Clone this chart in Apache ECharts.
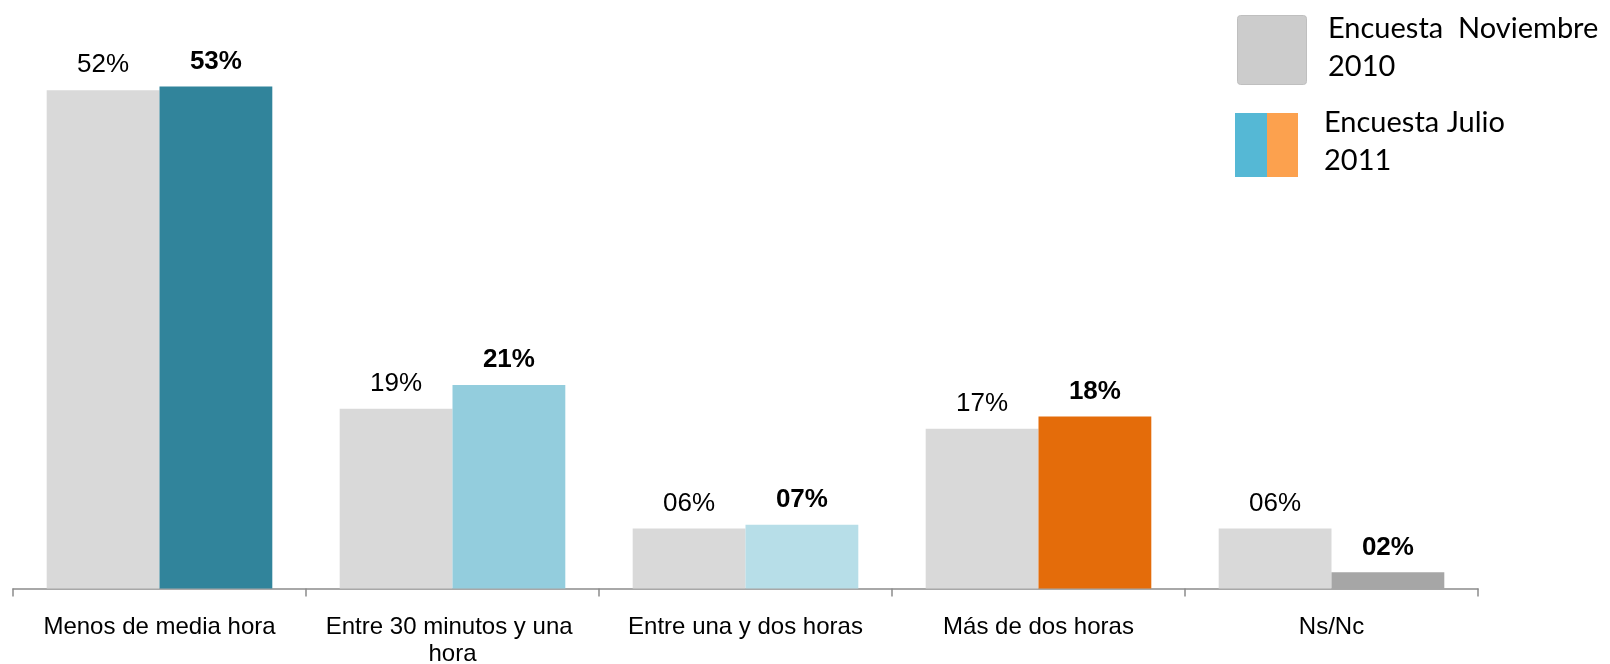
<!DOCTYPE html>
<html>
<head>
<meta charset="utf-8">
<script src="https://cdn.jsdelivr.net/npm/echarts@6/dist/echarts.min.js"></script>
<style>
  html, body { margin: 0; padding: 0; background: #fff; }
  #tiempo { width: 1610px; height: 664px; }
</style>
</head>
<body>
<div id="tiempo"></div>
<script>
var categorias = ['Menos de media hora', 'Entre 30 minutos y una hora', 'Entre una y dos horas', 'Más de dos horas', 'Ns/Nc'];
var nov2010 = [52.4, 18.9, 6.3, 16.8, 6.3];
var jul2011 = [52.8, 21.4, 6.7, 18.1, 1.7];
var coloresJul = ['#31849B', '#93CDDD', '#B7DEE8', '#E46C0A', '#A6A6A6'];

function pct(p) {
    var v = Math.round(p.value);
    return (v < 10 ? '0' + v : v) + '%';
}

function tiempoChart() {
    var tiempoOption = {
        animation: false,
        grid: {
            left: 13,
            right: 132,
            top: 18,
            bottom: 75.5,
            containLabel: false,
            outerBoundsMode: 'none'
        },
        xAxis: {
            type: 'category',
            data: categorias,
            axisLine: { lineStyle: { color: '#8C8C8C', width: 1.5 } },
            axisTick: { show: true, length: 8, lineStyle: { color: '#8C8C8C', width: 1.5 } },
            axisLabel: {
                color: '#000',
                fontFamily: 'Liberation Sans',
                fontSize: 24,
                lineHeight: 27,
                margin: 25,
                width: 270,
                overflow: 'break',
                interval: 0
            }
        },
        yAxis: {
            type: 'value',
            min: 0,
            max: 60,
            show: false,
            splitLine: { show: false }
        },
        series: [
            {
                name: 'Encuesta  Noviembre 2010',
                type: 'bar',
                barGap: 0,
                barCategoryGap: '23%',
                itemStyle: { color: '#D9D9D9' },
                label: {
                    show: true,
                    position: 'top',
                    distance: 12,
                    color: '#000',
                    fontFamily: 'Liberation Sans',
                    fontSize: 26,
                    formatter: pct
                },
                data: nov2010
            },
            {
                name: 'Encuesta Julio 2011',
                type: 'bar',
                itemStyle: {
                    color: function (p) { return coloresJul[p.dataIndex]; }
                },
                label: {
                    show: true,
                    position: 'top',
                    distance: 12,
                    color: '#000',
                    fontFamily: 'Liberation Sans',
                    fontWeight: 'bold',
                    fontSize: 26,
                    formatter: pct
                },
                data: jul2011
            }
        ],
        graphic: [
            // leyenda hecha a mano (el cuadro de 2011 va partido en dos colores)
            { type: 'rect', left: 1237, top: 15, shape: { width: 69, height: 69, r: 3 },
              style: { fill: '#CCCCCC', stroke: '#BFBFBF', lineWidth: 1 } },
            { type: 'text', left: 1328, top: 10,
              style: { text: 'Encuesta  Noviembre\n2010', font: '29px Lato', lineHeight: 38, fill: '#000' } },
            { type: 'rect', left: 1235, top: 113, shape: { width: 32, height: 64 },
              style: { fill: '#55B8D5' } },
            { type: 'rect', left: 1267, top: 113, shape: { width: 31, height: 64 },
              style: { fill: '#FCA14E' } },
            { type: 'text', left: 1324, top: 104,
              style: { text: 'Encuesta Julio\n2011', font: '29px Lato', lineHeight: 38, fill: '#000' } }
        ]
    };

    var tiempo = echarts.init(document.getElementById('tiempo'));
    tiempo.setOption(tiempoOption);
}

tiempoChart();
</script>
</body>
</html>
